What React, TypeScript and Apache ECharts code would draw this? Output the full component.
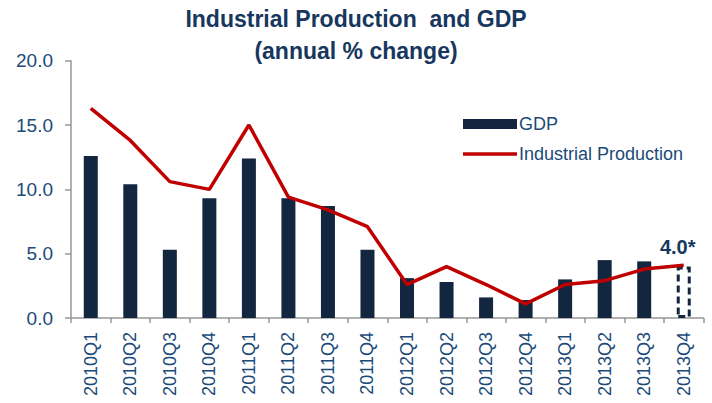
import React, { useEffect, useRef } from "react";
import * as echarts from "echarts";

const categories = [
  "2010Q1", "2010Q2", "2010Q3", "2010Q4",
  "2011Q1", "2011Q2", "2011Q3", "2011Q4",
  "2012Q1", "2012Q2", "2012Q3", "2012Q4",
  "2013Q1", "2013Q2", "2013Q3", "2013Q4",
];
const gdp = [12.6, 10.4, 5.3, 9.3, 12.4, 9.3, 8.7, 5.3, 3.1, 2.8, 1.6, 1.4, 3.0, 4.5, 4.4, 4.0];
const industrialProduction = [16.3, 13.8, 10.6, 10.0, 15.0, 9.4, 8.4, 7.1, 2.6, 4.0, 2.6, 1.1, 2.6, 2.9, 3.8, 4.1];
const estimateLabel = "4.0*";
const yTicks = { min: 0, max: 20, interval: 5 };

const NAVY = "#13263f";
const TEXT = "#1b4a78";
const RED = "#c00000";
const AXIS = "#979797";
const FONT = "Liberation Sans";

export default function App() {
  const ref = useRef<HTMLDivElement>(null);
  useEffect(() => {
    if (!ref.current) return;
    const chart = echarts.init(ref.current, undefined, { renderer: "svg" });
    const last = gdp.length - 1;
    const gdpData = gdp.map((v, i) =>
      i === last
        ? {
            value: v,
            itemStyle: {
              color: "rgba(0,0,0,0)",
              borderColor: NAVY,
              borderWidth: 3,
              borderType: [7, 4],
            },
            label: {
              show: true,
              position: "top",
              distance: 10,
              offset: [-6, 0],
              formatter: estimateLabel,
              color: "#17375e",
              fontWeight: "bold",
              fontSize: 20,
              fontFamily: FONT,
            },
          }
        : v
    );
    chart.setOption({
      animation: false,
      title: {
        text: "Industrial Production  and GDP\n(annual % change)",
        left: "center",
        top: 3,
        padding: 0,
        textStyle: {
          color: "#17375e",
          fontSize: 23,
          fontWeight: "bold",
          fontFamily: FONT,
          lineHeight: 32,
        },
      },
      legend: {
        orient: "vertical",
        left: 458,
        top: 110,
        itemWidth: 54,
        itemHeight: 10,
        itemGap: 12,
        textStyle: { color: TEXT, fontSize: 18, fontFamily: FONT, padding: [0, 0, 0, -3] },
        data: [
          { name: "GDP", icon: "rect" },
          { name: "Industrial Production", icon: "path://M0,0H54V3.5H0Z" },
        ],
      },
      grid: { left: 71, right: 8.5, top: 60.7, bottom: 85, containLabel: false },
      xAxis: {
        type: "category",
        data: categories,
        axisLine: { lineStyle: { color: AXIS, width: 1.5 } },
        axisTick: { show: true, length: 5, lineStyle: { color: AXIS, width: 1.5 } },
        axisLabel: {
          rotate: 90,
          interval: 0,
          color: TEXT,
          fontSize: 18,
          fontFamily: FONT,
          margin: 14,
        },
      },
      yAxis: {
        type: "value",
        min: yTicks.min,
        max: yTicks.max,
        interval: yTicks.interval,
        splitLine: { show: false },
        axisLine: { show: true, lineStyle: { color: AXIS, width: 1.5 } },
        axisTick: { show: true, length: 6, lineStyle: { color: AXIS, width: 1.5 } },
        axisLabel: {
          color: TEXT,
          fontSize: 19,
          fontFamily: FONT,
          margin: 18,
          formatter: (v: number) => v.toFixed(1),
        },
      },
      series: [
        {
          name: "GDP",
          type: "bar",
          data: gdpData,
          barWidth: 14,
          itemStyle: { color: NAVY },
        },
        {
          name: "Industrial Production",
          type: "line",
          data: industrialProduction,
          symbol: "none",
          lineStyle: { color: RED, width: 3.5 },
          itemStyle: { color: RED },
        },
      ],
    });
    return () => chart.dispose();
  }, []);
  return <div ref={ref} style={{ width: 712, height: 403, position: "absolute", left: 0, top: 0 }} />;
}
